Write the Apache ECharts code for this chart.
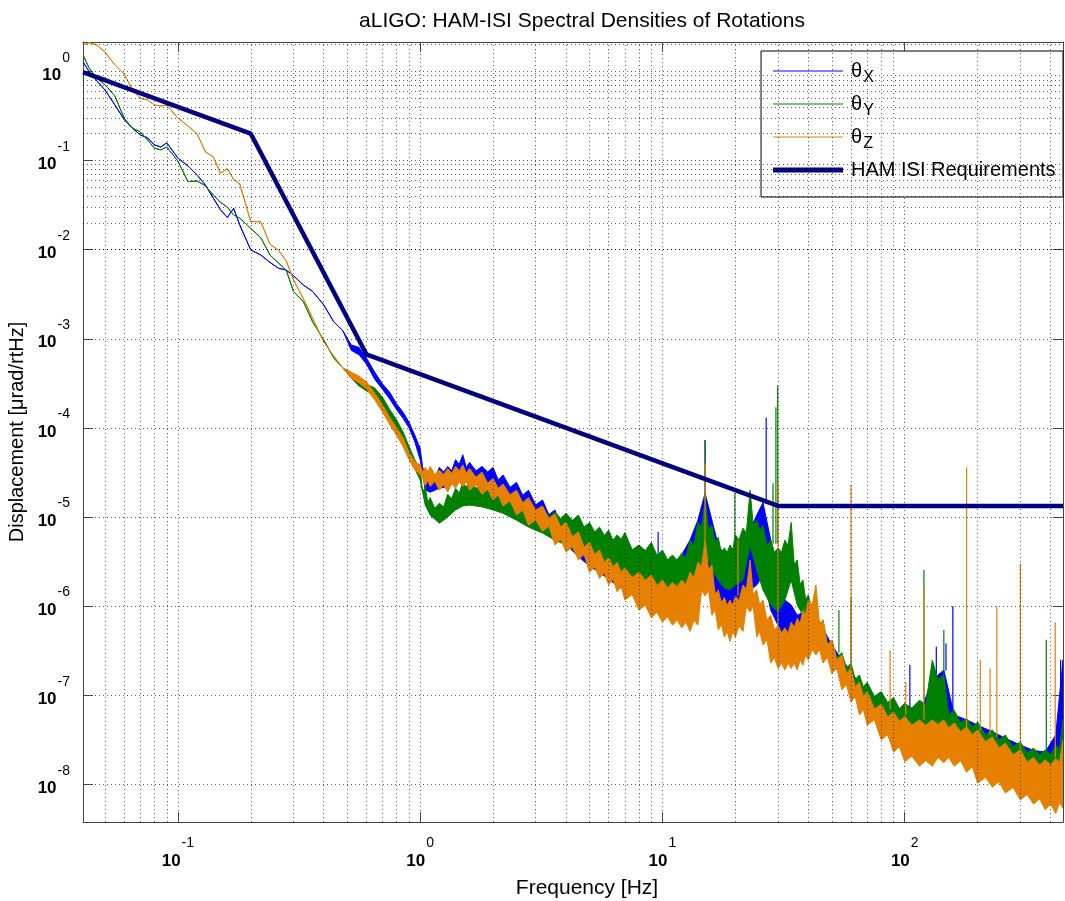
<!DOCTYPE html>
<html>
<head>
<meta charset="utf-8">
<title>aLIGO HAM-ISI rotations</title>
<script src="https://cdn.jsdelivr.net/npm/echarts@6/dist/echarts.min.js"></script>
<style>
  html, body { margin: 0; padding: 0; background: #fff; }
  #chart { width: 1065px; height: 901px; }
</style>
</head>
<body>
<div id="chart"></div>
<script>
// frequency grid shared by the three spectra (Hz)
const freqHz = [
  0.0406, 0.043, 0.046, 0.05, 0.055, 0.06, 0.065, 0.07, 0.075, 0.08, 0.085, 0.09, 0.1, 0.11, 0.12, 0.13, 0.14, 0.15, 0.16, 0.17, 0.18,
  0.2, 0.22, 0.24, 0.26, 0.28, 0.3, 0.33, 0.36, 0.4, 0.44, 0.48, 0.52, 0.56, 0.6, 0.65, 0.7, 0.75, 0.8, 0.85, 0.9, 0.95, 1.0,
  1.05, 1.1, 1.2, 1.3, 1.4, 1.5, 1.6, 1.8, 2.0, 2.2, 2.5, 2.8, 3.2, 3.6, 4.0, 4.5, 5.0, 5.5, 6.0, 6.5, 7.0, 8.0, 9.0, 10,
  11, 12, 13, 14, 15, 16, 17, 18, 19, 20, 21.5, 23, 24.5, 26, 28, 30, 32, 34, 36, 38, 40, 43, 46, 50, 55, 60, 65, 70, 80, 90, 100,
  115, 130, 145, 160, 180, 200, 230, 260, 300, 340, 380, 420, 450
];
// in-between frequencies where the noisy traces pull back towards their core (Hz)
const freqMidHz = [
  1.025, 1.075, 1.15, 1.25, 1.35, 1.45, 1.55, 1.7, 1.9, 2.1, 2.35, 2.65, 3.0, 3.4, 3.8, 4.25, 4.75, 5.25, 5.75, 6.25, 6.75, 7.5, 8.5, 9.5,
  10.5, 11.5, 12.5, 13.5, 14.5, 15.5, 16.5, 17.5, 18.5, 19.5, 20.7, 22.2, 23.7, 25.2, 27, 29, 31, 33, 35, 37, 39, 41.5, 44.5, 48,
  52.5, 57.5, 62.5, 67.5, 75, 85, 95, 107, 122, 137, 152, 170, 190, 215, 245, 280, 320, 360, 400, 435
];

// theta X: upper / lower edge of the trace (urad/rtHz)
const thetaXHigh = [
  1.28, 1.0, 0.80, 0.62, 0.42, 0.29, 0.23, 0.194, 0.18, 0.15, 0.142, 0.158, 0.107, 0.087, 0.069, 0.053, 0.038, 0.028, 0.023, 0.029, 0.019,
  0.0099, 0.0087, 0.0072, 0.0062, 0.0059, 0.0051, 0.0040, 0.0034, 0.0024, 0.00155, 0.00123, 8.5e-4, 8.0e-4, 6.1e-4, 4.2e-4, 3.1e-4, 2.5e-4, 1.86e-4, 1.5e-4, 1.16e-4, 8.3e-5, 5.9e-5,
  3.37e-5, 3.05e-5, 3.6e-5, 3.7e-5, 4.4e-5, 5.0e-5, 4.1e-5, 3.7e-5, 3.6e-5, 2.96e-5, 2.45e-5, 2.0e-5, 1.55e-5, 1.2e-5, 9.2e-6, 7.1e-6, 5.5e-6, 4.7e-6, 4.3e-6, 3.75e-6, 3.5e-6, 2.9e-6, 2.7e-6, 2.55e-6,
  2.9e-6, 3.75e-6, 5.5e-6, 9.2e-6, 1.85e-5, 9.2e-6, 4.85e-6, 3.75e-6, 3.75e-6, 4.26e-6, 5.5e-6, 7.1e-6, 1.05e-5, 1.45e-5, 5.5e-6, 2.2e-6, 1.17e-6, 1.03e-6, 7.9e-7, 8.5e-7, 7.0e-7, 7.9e-7, 5.6e-7, 3.66e-7, 2.5e-7, 1.85e-7, 1.34e-7, 1.1e-7, 8.4e-8, 6.8e-8, 6.5e-8,
  6.1e-8, 1.48e-7, 1.92e-7, 6.0e-8, 5.3e-8, 4.6e-8, 3.9e-8, 3.3e-8, 2.76e-8, 2.4e-8, 2.3e-8, 3.6e-8, 2.5e-7
];
const thetaXLow = [
  1.28, 1.0, 0.80, 0.62, 0.42, 0.29, 0.23, 0.194, 0.18, 0.15, 0.142, 0.158, 0.107, 0.087, 0.069, 0.053, 0.038, 0.028, 0.023, 0.029, 0.019,
  0.0099, 0.0087, 0.0072, 0.0062, 0.0059, 0.0051, 0.0040, 0.0034, 0.0024, 0.00155, 0.00123, 7.4e-4, 6.6e-4, 5.2e-4, 3.5e-4, 2.7e-4, 2.1e-4, 1.6e-4, 1.28e-4, 1.0e-4, 7.0e-5, 4.4e-5,
  2.01e-5, 1.9e-5, 2.1e-5, 2.2e-5, 2.5e-5, 2.6e-5, 2.5e-5, 2.2e-5, 2.0e-5, 1.85e-5, 1.55e-5, 1.2e-5, 8.8e-6, 6.3e-6, 4.9e-6, 3.6e-6, 2.8e-6, 2.4e-6, 2.0e-6, 1.7e-6, 1.5e-6, 1.25e-6, 1.17e-6, 1.1e-6,
  1.17e-6, 1.25e-6, 1.33e-6, 1.96e-6, 3.3e-6, 1.96e-6, 1.17e-6, 1.03e-6, 9.0e-7, 1.03e-6, 1.17e-6, 1.5e-6, 1.73e-6, 2.2e-6, 9.0e-7, 6.1e-7, 4.2e-7, 3.7e-7, 3.2e-7, 4.2e-7, 3.4e-7, 3.8e-7, 3.2e-7, 2.45e-7, 1.6e-7, 1.18e-7, 8.4e-8, 6.5e-8, 4.4e-8, 3.2e-8, 2.5e-8,
  2.25e-8, 2.25e-8, 2.45e-8, 2.25e-8, 1.9e-8, 1.45e-8, 1.3e-8, 1.12e-8, 9.4e-9, 8.4e-9, 7.3e-9, 6.6e-9, 7.6e-9
];
const thetaXHighMid = [
  3.5e-5, 2.7e-5, 2.75e-5, 3.2e-5, 3.3e-5, 3.9e-5, 3.6e-5, 3.3e-5, 3.2e-5, 2.6e-5, 2.15e-5, 1.75e-5, 1.37e-5, 1.06e-5, 8.1e-6
];
// narrow lines: [Hz, from, to]
const thetaXSpikes = [
  [9.6, 3.0e-6, 6.8e-6], [15.0, 1.8e-5, 7.3e-5], [26.8, 1.4e-5, 1.3e-4], [105, 6e-8, 2.2e-7],
  [135, 1.5e-7, 3.5e-7], [148, 1.9e-7, 3.8e-7], [158, 6e-8, 1.0e-6], [440, 3e-8, 2.5e-7]
];

// theta Y
const thetaYHigh = [
  1.53, 1.1, 0.85, 0.71, 0.53, 0.30, 0.23, 0.21, 0.17, 0.138, 0.132, 0.142, 0.099, 0.058, 0.059, 0.052, 0.041, 0.034, 0.030, 0.0245, 0.0226,
  0.0173, 0.0136, 0.0087, 0.0071, 0.0059, 0.0034, 0.0026, 0.00155, 9.7e-4, 6.1e-4, 4.7e-4, 4.2e-4, 3.45e-4, 3.1e-4, 2.8e-4, 2.2e-4, 1.6e-4, 1.23e-4, 9.0e-5, 6.2e-5, 4.4e-5, 3.4e-5,
  2.2e-5, 1.65e-5, 1.43e-5, 1.8e-5, 2.1e-5, 2.45e-5, 2.6e-5, 2.4e-5, 2.29e-5, 2.0e-5, 1.68e-5, 1.43e-5, 1.2e-5, 1.14e-5, 1.1e-5, 1.05e-5, 8.7e-6, 7.7e-6, 7.1e-6, 6.3e-6, 6.7e-6, 4.85e-6, 5.2e-6, 4.26e-6,
  3.75e-6, 3.9e-6, 5.5e-6, 8.7e-6, 1.55e-5, 8.1e-6, 5.9e-6, 4.5e-6, 4.85e-6, 6.3e-6, 7.5e-6, 2.0e-5, 9.2e-6, 8.1e-6, 5.5e-6, 4.5e-6, 5.5e-6, 8.7e-6, 3.3e-6, 1.96e-6, 1.33e-6, 1.0e-6, 7.0e-7, 4.17e-7, 3.0e-7, 2.3e-7, 1.69e-7, 1.4e-7, 1.1e-7, 9.4e-8, 8.1e-8,
  8.8e-8, 2.48e-7, 1.69e-7, 6.8e-8, 5.5e-8, 5.0e-8, 4.07e-8, 3.58e-8, 3.0e-8, 2.55e-8, 2.43e-8, 2.76e-8, 5.3e-8
];
const thetaYLow = [
  1.53, 1.1, 0.85, 0.71, 0.53, 0.30, 0.23, 0.21, 0.17, 0.138, 0.132, 0.142, 0.099, 0.058, 0.059, 0.052, 0.041, 0.034, 0.030, 0.0245, 0.0226,
  0.0173, 0.0136, 0.0087, 0.0071, 0.0059, 0.0034, 0.0026, 0.00155, 9.7e-4, 6.1e-4, 4.7e-4, 3.6e-4, 2.95e-4, 2.6e-4, 2.35e-4, 1.8e-4, 1.3e-4, 1.0e-4, 7.4e-5, 5.2e-5, 3.5e-5, 2.6e-5,
  1.36e-5, 1.05e-5, 8.5e-6, 1.0e-5, 1.2e-5, 1.33e-5, 1.36e-5, 1.3e-5, 1.2e-5, 1.1e-5, 9.2e-6, 7.7e-6, 6.6e-6, 5.5e-6, 4.85e-6, 3.95e-6, 3.5e-6, 3.1e-6, 2.8e-6, 2.54e-6, 2.4e-6, 1.96e-6, 1.73e-6, 1.73e-6,
  1.52e-6, 1.45e-6, 1.73e-6, 2.23e-6, 4.26e-6, 2.54e-6, 1.96e-6, 1.6e-6, 1.52e-6, 1.73e-6, 1.96e-6, 4.85e-6, 2.54e-6, 1.52e-6, 1.03e-6, 8.6e-7, 1.17e-6, 1.96e-6, 1.03e-6, 7.9e-7, 6.1e-7, 4.74e-7, 3.5e-7, 2.7e-7, 1.75e-7, 1.3e-7, 9.2e-8, 7.2e-8, 4.8e-8, 3.5e-8, 2.75e-8,
  2.5e-8, 2.5e-8, 2.7e-8, 2.5e-8, 2.1e-8, 1.6e-8, 1.43e-8, 1.23e-8, 1.03e-8, 9.2e-9, 8.0e-9, 7.3e-9, 8.4e-9
];
const thetaYHighMid = [
  1.9e-5, 1.45e-5, 1.25e-5, 1.3e-5, 1.6e-5, 1.85e-5, 2.15e-5, 2.1e-5, 2.0e-5, 1.75e-5, 1.5e-5, 1.25e-5, 1.05e-5, 1.0e-5, 9.6e-6, 9.2e-6, 7.7e-6, 6.8e-6, 6.2e-6, 5.5e-6, 5.6e-6, 4.3e-6, 4.2e-6, 3.7e-6,
  3.3e-6, 3.3e-6, 3.5e-6, 4.8e-6, 7.6e-6, 7.2e-6, 5.2e-6, 4.0e-6, 4.0e-6, 4.3e-6, 5.5e-6, 6.6e-6, 8.1e-6, 7.1e-6, 4.8e-6, 4.0e-6, 4.0e-6, 4.8e-6, 2.9e-6, 1.75e-6, 1.18e-6, 8.8e-7, 6.2e-7, 3.7e-7,
  2.65e-7, 2.0e-7, 1.5e-7, 1.24e-7, 9.7e-8, 8.3e-8, 7.1e-8, 7.2e-8, 7.8e-8, 1.5e-7, 6.0e-8, 4.9e-8, 4.4e-8, 3.6e-8, 3.15e-8, 2.65e-8, 2.25e-8, 2.15e-8, 2.15e-8, 2.45e-8
];
const thetaYSpikes = [
  [15.0, 1.5e-5, 7.3e-5], [19.9, 5e-6, 1.85e-5], [28.6, 5e-6, 2.4e-5], [29.4, 5e-6, 1.7e-4], [29.9, 5e-6, 3.0e-4],
  [53.5, 3e-7, 9.0e-7], [60, 2.3e-7, 1.25e-6], [120, 9e-8, 2.54e-6], [145, 1.7e-7, 5.4e-7], [384, 2.4e-8, 4.2e-7]
];

// theta Z
const thetaZHigh = [
  1.98, 2.1, 2.0, 1.65, 1.18, 0.94, 0.62, 0.5, 0.48, 0.42, 0.41, 0.42, 0.30, 0.245, 0.2, 0.125, 0.11, 0.072, 0.081, 0.061, 0.055,
  0.0206, 0.0206, 0.0115, 0.0099, 0.0075, 0.0046, 0.0028, 0.0017, 9.2e-4, 6.4e-4, 4.7e-4, 4.2e-4, 3.8e-4, 3.3e-4, 2.45e-4, 1.81e-4, 1.3e-4, 1.0e-4, 7.7e-5, 5.3e-5, 4.2e-5, 3.85e-5,
  3.6e-5, 3.7e-5, 3.37e-5, 3.5e-5, 3.7e-5, 3.85e-5, 3.5e-5, 3.2e-5, 2.7e-5, 2.35e-5, 2.0e-5, 1.65e-5, 1.33e-5, 1.08e-5, 8.7e-6, 6.8e-6, 5.2e-6, 4.26e-6, 3.5e-6, 3.1e-6, 2.7e-6, 2.4e-6, 2.23e-6, 1.96e-6,
  1.85e-6, 1.96e-6, 2.4e-6, 3.1e-6, 5.5e-6, 2.9e-6, 1.52e-6, 1.25e-6, 1.17e-6, 1.3e-6, 1.73e-6, 3.3e-6, 1.52e-6, 1.17e-6, 7.9e-7, 6.1e-7, 5.7e-7, 6.6e-7, 7.3e-7, 9.0e-7, 1.17e-6, 1.73e-6, 7.0e-7, 4.17e-7, 2.83e-7, 2.0e-7, 1.4e-7, 1.1e-7, 7.9e-8, 6.5e-8, 5.8e-8,
  5.27e-8, 5.27e-8, 5.27e-8, 4.9e-8, 4.4e-8, 4.07e-8, 3.4e-8, 2.9e-8, 2.43e-8, 2.0e-8, 1.88e-8, 1.95e-8, 3.1e-8
];
const thetaZLow = [
  1.98, 2.1, 2.0, 1.65, 1.18, 0.94, 0.62, 0.5, 0.48, 0.42, 0.41, 0.42, 0.30, 0.245, 0.2, 0.125, 0.11, 0.072, 0.081, 0.061, 0.055,
  0.0206, 0.0206, 0.0115, 0.0099, 0.0075, 0.0046, 0.0028, 0.0017, 9.2e-4, 6.4e-4, 4.7e-4, 3.6e-4, 3.2e-4, 2.75e-4, 2.05e-4, 1.5e-4, 1.08e-4, 8.2e-5, 6.2e-5, 4.4e-5, 3.4e-5, 3.0e-5,
  2.24e-5, 2.2e-5, 2.0e-5, 1.9e-5, 2.1e-5, 2.2e-5, 2.0e-5, 1.8e-5, 1.55e-5, 1.33e-5, 1.05e-5, 8.1e-6, 6.9e-6, 4.85e-6, 4.05e-6, 3.3e-6, 2.4e-6, 2.05e-6, 1.73e-6, 1.45e-6, 1.17e-6, 9.0e-7, 7.4e-7, 6.6e-7,
  6.1e-7, 5.7e-7, 5.2e-7, 6.1e-7, 1.3e-6, 7.9e-7, 5.4e-7, 4.5e-7, 4.0e-7, 4.5e-7, 5.2e-7, 8.6e-7, 4.5e-7, 3.66e-7, 2.3e-7, 2.0e-7, 1.92e-7, 2.0e-7, 1.92e-7, 2.18e-7, 2.48e-7, 2.83e-7, 2.3e-7, 1.75e-7, 1.15e-7, 8.4e-8, 6.0e-8, 4.63e-8, 3.14e-8, 2.3e-8, 1.8e-8,
  1.6e-8, 1.6e-8, 1.75e-8, 1.6e-8, 1.37e-8, 1.03e-8, 9.3e-9, 8.0e-9, 6.7e-9, 6.0e-9, 5.2e-9, 4.7e-9, 5.4e-9
];
const thetaZHighMid = [
  3.2e-5, 3.2e-5, 3.0e-5, 3.0e-5, 3.1e-5, 3.3e-5, 3.1e-5, 2.8e-5, 2.4e-5, 2.1e-5, 1.78e-5, 1.45e-5, 1.2e-5, 9.6e-6, 7.7e-6, 6.0e-6, 4.6e-6, 3.8e-6, 3.1e-6, 2.75e-6, 2.4e-6, 2.1e-6, 1.95e-6, 1.7e-6,
  1.6e-6, 1.65e-6, 1.75e-6, 2.1e-6, 2.8e-6, 2.6e-6, 1.35e-6, 1.1e-6, 1.02e-6, 1.03e-6, 1.15e-6, 1.55e-6, 1.35e-6, 1.03e-6, 7.0e-7, 5.4e-7, 5.0e-7, 5.0e-7, 5.8e-7, 6.4e-7, 8.0e-7, 1.03e-6, 6.2e-7, 3.7e-7,
  2.5e-7, 1.77e-7, 1.24e-7, 9.7e-8, 7.0e-8, 5.7e-8, 5.1e-8, 4.6e-8, 4.6e-8, 4.7e-8, 4.3e-8, 3.9e-8, 3.6e-8, 3.0e-8, 2.55e-8, 2.15e-8, 1.77e-8, 1.65e-8, 1.65e-8, 1.75e-8
];
const thetaZLowMid = [
  2.7e-5, 2.55e-5, 2.5e-5, 2.3e-5, 2.4e-5, 2.5e-5, 2.5e-5, 2.3e-5, 2.05e-5, 1.78e-5, 1.52e-5, 1.2e-5, 9.3e-6, 7.9e-6, 5.6e-6, 4.65e-6, 3.8e-6, 2.75e-6, 2.35e-6, 2.0e-6, 1.67e-6, 1.35e-6, 1.03e-6, 8.5e-7,
  7.6e-7, 7.0e-7, 6.6e-7, 7.0e-7, 1.5e-6, 1.5e-6, 9.1e-7, 6.2e-7, 5.2e-7, 5.2e-7, 6.0e-7, 9.9e-7, 9.9e-7, 5.2e-7, 4.2e-7, 2.65e-7, 2.3e-7, 2.3e-7, 2.3e-7, 2.5e-7, 2.85e-7, 3.25e-7, 3.25e-7, 2.65e-7,
  2.0e-7, 1.32e-7, 9.7e-8, 6.9e-8, 5.3e-8, 3.6e-8, 2.65e-8, 2.07e-8, 1.85e-8, 2.0e-8, 2.0e-8, 1.84e-8, 1.58e-8, 1.2e-8, 1.07e-8, 9.2e-9, 7.7e-9, 6.9e-9, 6.0e-9, 6.2e-9
];
const thetaZSpikes = [
  [15.0, 5.5e-6, 4.0e-5], [20.5, 1.3e-6, 5.5e-6], [30, 6e-7, 2.4e-5], [60, 2e-7, 2.3e-5], [87, 7e-8, 3.2e-7],
  [101, 6e-8, 1.4e-7], [120, 5.3e-8, 1.6e-6], [180, 4.4e-8, 3.6e-5], [205, 4e-8, 2.5e-7], [225, 3.6e-8, 2.0e-7],
  [240, 3.4e-8, 1.0e-6], [300, 2.4e-8, 3.0e-6], [418, 2e-8, 6.6e-7]
];

// HAM-ISI requirement corners
const reqFreq = [0.0406, 0.2, 0.6, 30, 450];
const reqValue = [0.985, 0.2, 6.7e-4, 1.33e-5, 1.33e-5];

// grid helpers
const minorSteps = [2, 3, 4, 5, 6, 7, 8, 9];
const freqDecades = [0.01, 0.1, 1, 10, 100];
const valueDecades = [1e-9, 1e-8, 1e-7, 1e-6, 1e-5, 1e-4, 1e-3, 1e-2, 1e-1, 1];

const xMin = 0.0406, xMax = 450;
const yMin = 3.78e-9, yMax = 2.14;

const blue = '#0000ff', green = '#008000', orange = '#e68000', navy = '#000080';
const font = 'Liberation Sans, Arial, Helvetica, sans-serif';

const minorFreq = freqDecades.flatMap(d => minorSteps.map(m => m * d)).filter(v => v > xMin && v < xMax);
const minorValue = valueDecades.flatMap(d => minorSteps.map(m => m * d)).filter(v => v > yMin && v < yMax);

const dotted = { color: '#000', type: [1, 3], width: 1, opacity: 0.65 };

function powerLabel(v) {
  const e = Math.log10(v);
  const r = Math.round(e);
  if (Math.abs(e - r) > 1e-6) return '';
  return '{b|10}{e|' + r + '}';
}
const powerRich = {
  b: { fontSize: 17, fontWeight: 'bold', lineHeight: 20, padding: [8, 0, 0, 0], color: '#000', fontFamily: font },
  e: { fontSize: 14, lineHeight: 16, padding: [0, 0, 27, 1], color: '#000', fontFamily: font }
};

// one edge of a trace: grid points plus the optional in-between points
function edge(values, midValues) {
  const pts = freqHz.map((f, i) => [f, values[i]]);
  (midValues || []).forEach((v, j) => { if (v != null) pts.push([freqMidHz[j], v]); });
  return pts.sort((a, b) => a[0] - b[0]);
}

function bandSeries(name, color, low, high, lowMid, highMid, spikes) {
  const upperEdge = edge(high, highMid);
  const lowerEdge = edge(low, lowMid);
  return {
    name,
    type: 'custom',
    coordinateSystem: 'cartesian2d',
    clip: true,
    silent: true,
    z: 3,
    data: freqHz.map((f, i) => [f, low[i], high[i]]),
    encode: { x: 0, y: [1, 2] },
    renderItem(params, api) {
      if (params.dataIndex !== 0) return null;
      const upper = upperEdge.map(p => api.coord(p));
      const lower = lowerEdge.map(p => api.coord(p)).reverse();
      const children = [{
        type: 'polygon',
        shape: { points: upper.concat(lower) },
        style: { fill: color, stroke: color, lineWidth: 1, lineJoin: 'round' }
      }];
      spikes.forEach(([f, a, b]) => {
        const p = api.coord([f, a]);
        const q = api.coord([f, b]);
        children.push({
          type: 'line',
          shape: { x1: p[0], y1: p[1], x2: q[0], y2: q[1] },
          style: { stroke: color, lineWidth: 1.2 }
        });
      });
      return { type: 'group', children };
    }
  };
}

const axisLineStyle = { color: '#444', width: 1 };

const option = {
  animation: false,
  backgroundColor: '#fff',
  textStyle: { fontFamily: font },
  title: {
    text: 'aLIGO: HAM-ISI Spectral Densities of Rotations',
    left: 577,
    top: 6,
    textAlign: 'center',
    textStyle: { fontSize: 21, fontWeight: 'normal', color: '#000', fontFamily: font }
  },
  grid: { left: 83, right: 2, top: 42, bottom: 79, containLabel: false, outerBoundsMode: 'none' },
  legend: {
    data: ['θX', 'θY', 'θZ', 'HAM ISI Requirements'],
    orient: 'vertical',
    right: 2,
    top: 51,
    icon: 'none',
    itemWidth: 0,
    itemHeight: 0,
    itemGap: 3,
    padding: [5, 2, 12, 7],
    borderColor: '#000',
    borderWidth: 1,
    backgroundColor: '#fff',
    selectedMode: false,
    formatter(name) {
      if (name === 'HAM ISI Requirements') return '{lnR|}{h|' + name + '}{s| }';
      const k = name.slice(1);
      return '{ln' + k + '|}{t|θ}{s|' + k + '}';
    },
    textStyle: {
      fontFamily: font,
      color: '#000',
      rich: {
        lnX: { width: 70, height: 1, backgroundColor: blue },
        lnY: { width: 70, height: 1, backgroundColor: green },
        lnZ: { width: 70, height: 1, backgroundColor: orange },
        lnR: { width: 70, height: 5, backgroundColor: navy },
        t: { fontSize: 20, lineHeight: 32, padding: [0, 0, 0, 8], color: '#000', fontFamily: font },
        s: { fontSize: 16, lineHeight: 16, padding: [14, 0, 0, 1], color: '#000', fontFamily: font },
        h: { fontSize: 20, lineHeight: 32, padding: [0, 0, 0, 8], color: '#000', fontFamily: font }
      }
    }
  },
  xAxis: [
    {
      type: 'log', logBase: 10, min: xMin, max: xMax, position: 'bottom',
      name: 'Frequency [Hz]', nameLocation: 'middle', nameGap: 56, nameMoveOverlap: false,
      nameTextStyle: { fontSize: 21, color: '#000', fontFamily: font, padding: [0, 0, 0, 28] },
      axisLine: { onZero: false, lineStyle: axisLineStyle },
      axisTick: { inside: true, length: 10, lineStyle: axisLineStyle },
      axisLabel: { formatter: powerLabel, rich: powerRich, margin: 25, showMinLabel: false, showMaxLabel: false },
      splitLine: { show: true, lineStyle: dotted }
    },
    {
      type: 'log', logBase: 10, min: xMin, max: xMax, position: 'top',
      axisLine: { onZero: false, lineStyle: axisLineStyle },
      axisTick: { inside: true, length: 10, lineStyle: axisLineStyle },
      axisLabel: { show: false },
      splitLine: { show: false }
    }
  ],
  yAxis: [
    {
      type: 'log', logBase: 10, min: yMin, max: yMax, position: 'left',
      name: 'Displacement [μrad/rtHz]', nameLocation: 'middle', nameGap: 56, nameRotate: 90, nameMoveOverlap: false,
      nameTextStyle: { fontSize: 20, color: '#000', fontFamily: font },
      axisLine: { onZero: false, lineStyle: axisLineStyle },
      axisTick: { inside: true, length: 10, lineStyle: axisLineStyle },
      axisLabel: { formatter: powerLabel, rich: powerRich, margin: 13, showMinLabel: false, showMaxLabel: false },
      splitLine: { show: true, lineStyle: dotted }
    },
    {
      type: 'log', logBase: 10, min: yMin, max: yMax, position: 'right',
      axisLine: { onZero: false, lineStyle: axisLineStyle },
      axisTick: { inside: true, length: 10, lineStyle: axisLineStyle },
      axisLabel: { show: false },
      splitLine: { show: false }
    }
  ],
  series: [
    {
      name: 'minor grid',
      type: 'line',
      z: 1,
      data: [],
      silent: true,
      markLine: {
        silent: true,
        symbol: ['none', 'none'],
        label: { show: false },
        lineStyle: dotted,
        emphasis: { disabled: true },
        data: minorFreq.map(v => ({ xAxis: v })).concat(minorValue.map(v => ({ yAxis: v })))
      }
    },
    bandSeries('θX', blue, thetaXLow, thetaXHigh, null, thetaXHighMid, thetaXSpikes),
    bandSeries('θY', green, thetaYLow, thetaYHigh, null, thetaYHighMid, thetaYSpikes),
    bandSeries('θZ', orange, thetaZLow, thetaZHigh, thetaZLowMid, thetaZHighMid, thetaZSpikes),
    {
      name: 'HAM ISI Requirements',
      type: 'line',
      z: 5,
      showSymbol: false,
      silent: true,
      lineStyle: { color: navy, width: 4.5 },
      itemStyle: { color: navy },
      data: reqFreq.map((f, i) => [f, reqValue[i]])
    }
  ]
};

const chart = echarts.init(document.getElementById('chart'));
chart.setOption(option);
</script>
</body>
</html>
